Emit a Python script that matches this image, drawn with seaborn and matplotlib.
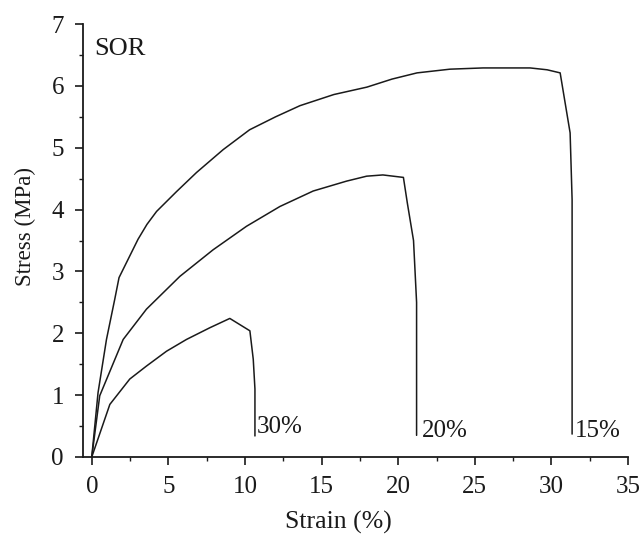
import matplotlib
matplotlib.use("Agg")
import matplotlib.pyplot as plt
import seaborn as sns
import pandas as pd
from matplotlib.ticker import MultipleLocator

# Data
strain_15 = [0.0, 0.41, 0.96, 1.5, 1.78, 3.02, 3.6, 4.23, 5.53, 6.84, 8.58, 10.3, 12.0, 13.59,
             15.8, 17.96, 19.6, 21.23, 23.38, 25.54, 28.61, 29.72, 30.57, 31.22, 31.35, 31.35]
stress_15 = [0.0, 1.04, 1.90, 2.55, 2.90, 3.52, 3.76, 3.97, 4.29, 4.60, 4.97, 5.29, 5.50, 5.68,
             5.86, 5.98, 6.11, 6.21, 6.27, 6.29, 6.29, 6.26, 6.21, 5.24, 4.16, 0.37]

strain_20 = [0.0, 0.52, 2.05, 3.57, 5.75, 7.92, 10.1, 12.28, 14.45, 16.63, 17.94,
             19.0, 20.34, 20.6, 21.0, 21.2, 21.2]
stress_20 = [0.0, 0.99, 1.90, 2.39, 2.92, 3.35, 3.73, 4.05, 4.30, 4.46, 4.54,
             4.56, 4.52, 4.10, 3.50, 2.50, 0.35]

strain_30 = [0.0, 1.18, 2.48, 3.57, 4.88, 6.18, 7.71, 9.01, 10.32, 10.54, 10.65, 10.65]
stress_30 = [0.0, 0.85, 1.26, 1.47, 1.71, 1.90, 2.09, 2.24, 2.04, 1.58, 1.10, 0.34]

labels = ["15%", "20%", "30%"]
label_x = [31.55, 21.53, 10.8]
label_y = [0.42, 0.42, 0.48]

sns.set_theme(style="ticks")
plt.rcParams["font.family"] = ["Liberation Serif", "DejaVu Serif"]

fig = plt.figure(figsize=(6.44, 5.41), dpi=100)
ax = fig.add_axes([0.1294, 0.1553, 0.9752 - 0.1294, 0.9556 - 0.1553])

col = "#1a1a1a"
for sx, sy in [(strain_15, stress_15), (strain_20, stress_20), (strain_30, stress_30)]:
    df = pd.DataFrame({"Strain": sx, "Stress": sy})
    sns.lineplot(data=df, x="Strain", y="Stress", sort=False, estimator=None,
                 color=col, linewidth=1.1, ax=ax)

for t, x, y in zip(labels, label_x, label_y):
    ax.text(x, y, t, fontsize=18, va="center", ha="left", color=col)

ax.text(0.15, 6.6, "SOR", fontsize=19, va="center", ha="left", color=col)

ax.set_xlim(-0.55, 35)
ax.set_ylim(0, 7)
ax.xaxis.set_major_locator(MultipleLocator(5))
ax.xaxis.set_minor_locator(MultipleLocator(2.5))
ax.yaxis.set_major_locator(MultipleLocator(1))
ax.yaxis.set_minor_locator(MultipleLocator(0.5))
ax.tick_params(which="major", direction="out", length=6, width=1.2, labelsize=18,
               color=col, labelcolor=col)
ax.tick_params(axis="x", which="major", pad=8)
ax.tick_params(axis="y", which="major", pad=8)
ax.tick_params(which="minor", direction="out", length=3, width=1.0, color=col)
for s in ["top", "right"]:
    ax.spines[s].set_visible(False)
for s in ["left", "bottom"]:
    ax.spines[s].set_linewidth(1.3)
    ax.spines[s].set_color(col)

ax.set_xlabel("Strain (%)", fontsize=18.5, color=col)
ax.set_ylabel("Stress (MPa)", fontsize=16.5, color=col)
ax.xaxis.label.set_va("top")
ax.xaxis.set_label_coords(0.469, -0.125)
ax.yaxis.label.set_va("center")
ax.yaxis.set_label_coords(-0.107, 0.533)

fig.savefig("out.png", dpi=100)
